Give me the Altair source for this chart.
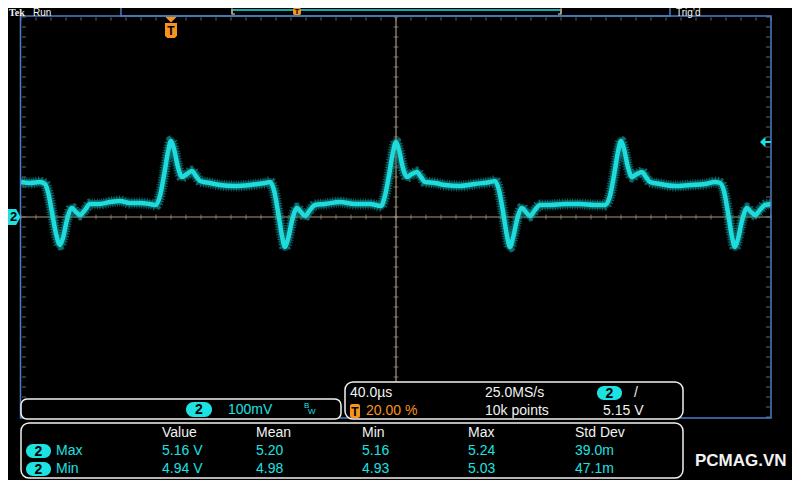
import altair as alt
import pandas as pd

# ---------------- data ----------------
# channel 2 trace: time in microseconds (trigger at 0), voltage in volts
time_us = [-80.0, -75.2, -69.9, -67.2, -65.6, -63.5, -61.3, -59.2, -57.6, -55.5, -52.8, -50.7,
           -48.5, -45.9, -43.2, -37.9, -32.5, -27.2, -21.9, -16.5, -11.2, -8.0,
           -5.9, -3.7, -1.6, 0.0, 1.6, 3.7, 5.9, 8.5, 11.2, 13.3, 15.5, 20.8, 26.1, 34.1, 42.1, 50.1, 52.8,
           54.9, 57.1, 59.2, 60.8, 62.4, 64.5, 67.2, 69.3, 71.5, 74.1, 76.8, 82.1, 90.1, 98.1, 106.1, 112.0,
           114.1, 116.3, 118.4, 120.0, 121.6, 123.7, 125.9, 128.5, 131.2, 133.3, 135.5, 140.8, 146.1, 154.1,
           162.1, 170.1, 172.8,
           174.9, 177.1, 179.2, 180.8, 182.4, 184.5, 187.2, 189.3, 191.5, 194.1, 196.8, 202.1, 210.1, 218.1,
           226.1, 231.5,
           234.1, 236.3, 238.4, 240.0, 241.6, 243.7, 245.9, 248.5, 251.2, 253.3, 255.5, 260.8, 268.8, 276.8,
           284.8, 290.1, 292.8,
           294.9, 297.1, 299.2, 300.8, 302.4, 304.5, 307.2, 309.3, 311.5, 314.1, 316.8, 320.0]
volts = [5.070, 5.068, 5.070, 5.066, 5.050, 5.010, 4.966, 4.944, 4.958, 4.994, 5.018, 5.010,
         5.004, 5.014, 5.026, 5.026, 5.030, 5.032, 5.028, 5.028, 5.026, 5.024,
         5.042, 5.084, 5.130, 5.152, 5.136, 5.100, 5.080, 5.086, 5.092, 5.082, 5.072, 5.068, 5.064, 5.062,
         5.064, 5.068, 5.070,
         5.054, 5.010, 4.962, 4.940, 4.956, 4.992, 5.018, 5.010, 5.002, 5.014, 5.024, 5.026, 5.030, 5.026,
         5.026, 5.022,
         5.042, 5.084, 5.130, 5.150, 5.134, 5.098, 5.080, 5.086, 5.090, 5.080, 5.070, 5.068, 5.064, 5.062,
         5.066, 5.070, 5.072,
         5.054, 5.010, 4.962, 4.940, 4.958, 4.994, 5.018, 5.010, 5.002, 5.014, 5.024, 5.024, 5.026, 5.026,
         5.024, 5.024,
         5.042, 5.084, 5.130, 5.152, 5.136, 5.100, 5.080, 5.086, 5.090, 5.080, 5.070, 5.066, 5.062, 5.064,
         5.066, 5.070, 5.068,
         5.052, 5.008, 4.960, 4.940, 4.956, 4.992, 5.018, 5.010, 5.004, 5.014, 5.024, 5.026]

# graticule (40 us/div, 100 mV/div, 5 minor per div)
x_major = [-80, -40, 0, 40, 80, 120, 160, 200, 240, 280, 320]
y_major = [4.6, 4.7, 4.8, 4.9, 5.0, 5.1, 5.2, 5.3, 5.4]
x_minor = [-80 + 8 * i for i in range(51)]
y_minor = [round(4.6 + 0.02 * i, 2) for i in range(41)]
center_t = [120]
center_v = [5.0]
trigger_t = [0]
trigger_level = [5.15]
ch2_offset = [5.0]

# texts
header_left = ["Tek", "Run"]
header_right = "Trig\u2019d"
ch_scale = "100mV"
timebase = ["40.0\u00b5s", "25.0MS/s", "20.00 %", "10k points", "5.15 V"]
meas_cols = ["Value", "Mean", "Min", "Max", "Std Dev"]
meas_rows = ["Max", "Min"]
meas_max = ["5.16 V", "5.20", "5.16", "5.24", "39.0m"]
meas_min = ["4.94 V", "4.98", "4.93", "5.03", "47.1m"]
watermark = "PCMAG.VN"

# ---------------- style ----------------
CYAN = "#1de2e2"
ORANGE = "#f7941e"
TAN = "#a89a7c"
BLUE = "#4a7fc8"
GRID = "#9a9482"
WHITE = "#f2f2f2"
FONT = "Liberation Sans"

xs = alt.Scale(domain=[-80, 320], nice=False, zero=False)
ys = alt.Scale(domain=[4.6, 5.4], nice=False, zero=False)

wave = pd.DataFrame({"t": time_us, "v": volts})
one = pd.DataFrame({"k": [0]})


def px(x):
    return x - 21


def py(y):
    return y - 17


def box(x1, y1, x2, y2, **kw):
    return alt.Chart(one).mark_rect(**kw).encode(
        x=alt.value(px(x1)), x2=alt.value(px(x2)), y=alt.value(py(y1)), y2=alt.value(py(y2)))


def label(txt, x, y, color, size=14, align="left", weight="normal", font=FONT):
    return alt.Chart(one).mark_text(text=txt, align=align, baseline="middle", color=color,
                                    fontSize=size, fontWeight=weight, font=font).encode(
        x=alt.value(px(x)), y=alt.value(py(y)))


def hrule(x1, x2, y, color, w=1.0):
    return alt.Chart(one).mark_rule(color=color, strokeWidth=w).encode(
        x=alt.value(px(x1)), x2=alt.value(px(x2)), y=alt.value(py(y)))


def vrule(x, y1, y2, color, w=1.0):
    return alt.Chart(one).mark_rule(color=color, strokeWidth=w).encode(
        x=alt.value(px(x)), y=alt.value(py(y1)), y2=alt.value(py(y2)))


def pill(x1, y1, x2, y2, txt):
    r = (y2 - y1) / 2
    return [box(x1, y1, x2, y2, fill=CYAN, cornerRadius=r),
            label(txt, (x1 + x2) / 2, (y1 + y2) / 2 + 0.5, "#000000", size=14, align="center",
                  weight="bold")]


layers = []

# grid (dotted) carried by the first trace layer's axes
x_axis = alt.Axis(values=x_major, grid=True, gridDash=[1, 9], gridColor=GRID, gridWidth=1,
                  labels=False, ticks=False, domain=False, title=None)
y_axis = alt.Axis(values=y_major, grid=True, gridDash=[1, 14], gridColor=GRID, gridWidth=1,
                  labels=False, ticks=False, domain=False, title=None)

halo_base = alt.Chart(wave).mark_line(color="#0a4c4e", strokeWidth=8, interpolate="monotone").encode(
    x=alt.X("t:Q", scale=xs, axis=x_axis), y=alt.Y("v:Q", scale=ys, axis=y_axis))
layers.append(halo_base)

# edge minor ticks
xm = pd.DataFrame({"tv": x_minor})
ym = pd.DataFrame({"vv": y_minor})
layers.append(alt.Chart(xm).mark_tick(orient="vertical", color=GRID, size=3, thickness=1).encode(
    x=alt.X("tv:Q", scale=xs, axis=None), y=alt.value(2)))
layers.append(alt.Chart(ym).mark_tick(orient="horizontal", color=GRID, size=4, thickness=1).encode(
    y=alt.Y("vv:Q", scale=ys, axis=None), x=alt.value(3)))
layers.append(alt.Chart(ym).mark_tick(orient="horizontal", color=GRID, size=4, thickness=1).encode(
    y=alt.Y("vv:Q", scale=ys, axis=None), x=alt.value(747)))

# centre crosshair with minor ticks
layers.append(alt.Chart(pd.DataFrame({"c": center_t})).mark_rule(color=TAN, strokeWidth=1.2).encode(
    x=alt.X("c:Q", scale=xs, axis=None)))
layers.append(alt.Chart(pd.DataFrame({"c": center_v})).mark_rule(color=TAN, strokeWidth=1.2).encode(
    y=alt.Y("c:Q", scale=ys, axis=None)))
layers.append(alt.Chart(xm).mark_tick(orient="vertical", color=TAN, size=5, thickness=1).encode(
    x=alt.X("tv:Q", scale=xs, axis=None), y=alt.Y(datum=5.0, scale=ys, axis=None)))
layers.append(alt.Chart(ym).mark_tick(orient="horizontal", color=TAN, size=5, thickness=1).encode(
    y=alt.Y("vv:Q", scale=ys, axis=None), x=alt.X(datum=120, scale=xs, axis=None)))

# noisy envelope + trace core
layers.append(alt.Chart(wave).mark_line(color="#0f7a7c", strokeWidth=11, interpolate="monotone",
                                        strokeDash=[1, 1.5], opacity=0.8).encode(
    x=alt.X("t:Q", scale=xs, axis=None), y=alt.Y("v:Q", scale=ys, axis=None)))
layers.append(alt.Chart(wave).mark_line(color="#1fdcdc", strokeWidth=4.5, interpolate="monotone").encode(
    x=alt.X("t:Q", scale=xs, axis=None), y=alt.Y("v:Q", scale=ys, axis=None)))

# graticule frame
layers.append(box(20.5, 16, 771, 418, fillOpacity=0, stroke=BLUE, strokeWidth=1.5))

# trigger position marker
tdf = pd.DataFrame({"t": trigger_t})
layers.append(alt.Chart(tdf).mark_point(shape="M -1 -0.5 L 1 -0.5 L 0 0.5 Z", size=144, filled=True,
                                        color=ORANGE, opacity=1).encode(
    x=alt.X("t:Q", scale=xs, axis=None), y=alt.value(py(19.5))))
layers.append(alt.Chart(tdf).mark_point(
    shape="M -0.8 -1 L 0.8 -1 L 0.8 0.7 L 0.5 1 L -0.5 1 L -0.8 0.7 Z", size=225, filled=True,
    color=ORANGE, opacity=1).encode(x=alt.X("t:Q", scale=xs, axis=None), y=alt.value(py(30.5))))
layers.append(alt.Chart(tdf).mark_text(text="T", color="#000000", fontSize=12, fontWeight="bold",
                                       font=FONT, baseline="middle").encode(
    x=alt.X("t:Q", scale=xs, axis=None), y=alt.value(py(31))))

# trigger level arrow (right edge)
layers.append(alt.Chart(pd.DataFrame({"v": trigger_level})).mark_point(
    shape="M -1 0 L 0 -1 L 0 -0.2 L 1 -0.2 L 1 0.2 L 0 0.2 L 0 1 Z", size=121, filled=True,
    color=CYAN, opacity=1).encode(y=alt.Y("v:Q", scale=ys, axis=None), x=alt.value(px(765.5))))

# channel 2 ground marker (left edge; the page margin hides the first 8 px)
odf = pd.DataFrame({"v": ch2_offset})
layers.append(alt.Chart(odf).mark_point(
    shape="M -1 -1.28 L 0.3 -1.28 L 1 0 L 0.3 1.28 L -1 1.28 Z", size=156, filled=True,
    color=CYAN, opacity=1).encode(y=alt.Y("v:Q", scale=ys, axis=None), x=alt.value(px(14.25))))
layers.append(alt.Chart(odf).mark_text(text="2", color="#000000", fontSize=13, fontWeight="bold",
                                       font=FONT, baseline="middle").encode(
    y=alt.Y("v:Q", scale=ys, axis=None), x=alt.value(px(13.5))))

# header (squeezed into the visible strip above the graticule)
layers.append(label(header_left[0], 9, 12.5, WHITE, size=10, weight="bold", font="Liberation Serif"))
layers.append(label(header_left[1], 33, 12.5, WHITE, size=10))
layers.append(box(121, 0, 670, 16, fillOpacity=0, stroke=BLUE, strokeWidth=1.5))
layers.append(hrule(232, 561, 10, CYAN, 1.5))
layers.append(vrule(232, 8.5, 14.5, TAN, 2))
layers.append(vrule(561, 8.5, 14.5, TAN, 2))
layers.append(hrule(232, 235, 14, TAN, 1.5))
layers.append(hrule(558, 561, 14, TAN, 1.5))
layers.append(box(293, 8, 301, 15, fill=ORANGE, cornerRadius=1.5))
layers.append(label("T", 297, 11.8, "#000000", size=8, align="center", weight="bold"))
layers.append(label(header_right, 676, 12.5, WHITE, size=10))

# channel scale box
layers.append(box(21, 399, 341, 419, fill="#000000", stroke=WHITE, strokeWidth=1.5, cornerRadius=6))
layers += pill(186, 402, 212, 417, "2")
layers.append(label(ch_scale, 228, 410, CYAN, size=14))
layers.append(label("B", 304, 406, CYAN, size=8))
layers.append(label("W", 308, 412, CYAN, size=8))

# timebase box
layers.append(box(345, 382, 683, 419, fill="#000000", stroke=WHITE, strokeWidth=1.5, cornerRadius=8))
layers.append(label(timebase[0], 350, 393, WHITE))
layers.append(label(timebase[1], 485, 393, WHITE))
layers += pill(597, 386, 622, 400, "2")
layers.append(label("/", 636, 393, WHITE, align="center"))
layers.append(box(350, 404, 360, 418, fill=ORANGE, cornerRadius=2))
layers.append(label("T", 355, 411.5, "#000000", size=12, align="center", weight="bold"))
layers.append(label(timebase[2], 366, 411, ORANGE))
layers.append(label(timebase[3], 485, 411, WHITE))
layers.append(label(timebase[4], 603, 411, WHITE))

# measurement box
layers.append(box(21, 423, 683, 478, fill="#000000", stroke=WHITE, strokeWidth=1.5, cornerRadius=8))
col_x = [162, 256, 362, 468, 575]
for name, cx in zip(meas_cols, col_x):
    layers.append(label(name, cx, 433, WHITE))
row_y = [451, 469]
for rname, ry, vals in zip(meas_rows, row_y, [meas_max, meas_min]):
    layers += pill(26, ry - 7, 51, ry + 7, "2")
    layers.append(label(rname, 56, ry, CYAN))
    for val, cx in zip(vals, col_x):
        layers.append(label(val, cx, ry, CYAN))

# watermark
layers.append(label(watermark, 695, 461, WHITE, size=17, weight="bold"))

# svg is 784 x 472 so it fits the 800 px window minus the 8 px page margins without rescaling
chart = alt.layer(*layers).properties(
    width=750, height=400,
    padding={"left": 13, "top": 9, "right": 21, "bottom": 63},
    autosize=alt.AutoSizeParams(type="none"),
).configure(background="#000000").configure_view(stroke=None)

chart.save("out.html", embed_options={"renderer": "svg", "actions": False})
